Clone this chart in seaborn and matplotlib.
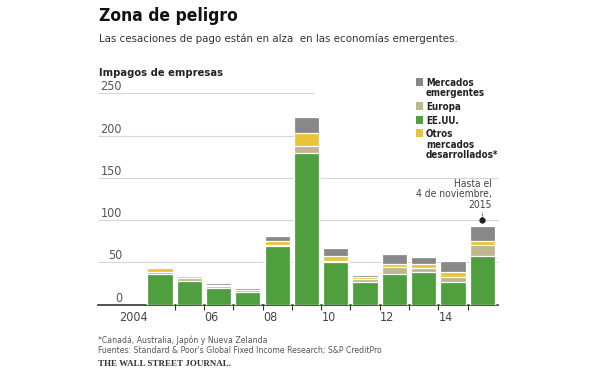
import matplotlib
matplotlib.use("Agg")
import matplotlib.pyplot as plt
import matplotlib.transforms as mtransforms
from matplotlib.patches import Rectangle
import pandas as pd
import seaborn as sns

# Impagos de empresas por región (número)
years = [2004, 2005, 2006, 2007, 2008, 2009, 2010, 2011, 2012, 2013, 2014, 2015]
ee_uu = [36, 28, 19, 15, 69, 179, 50, 27, 36, 38, 27, 58]
europa = [3, 3, 3, 2, 2, 9, 2, 3, 8, 5, 6, 12]
otros = [4, 3, 1, 0.5, 4, 15, 5, 2, 4, 5, 6, 5]
emergentes = [0, 0, 2, 1.5, 6, 19, 10, 3, 12, 8, 13, 18]

year_labels = ["2004", "06", "08", "10", "12", "14"]
y_ticks = [0, 50, 100, 150, 200, 250]
note_value = 100  # dot for "Hasta el 4 de noviembre, 2015"

GREEN = "#4f9f3f"
TAN = "#bdb88c"
YELLOW = "#e9c43a"
GRAY = "#88888b"

sns.set_theme(style="white")
plt.rcParams["font.family"] = ["DejaVu Sans"]
plt.rcParams["font.stretch"] = "condensed"

df = pd.DataFrame({
    "year": [str(y) for y in years],
    "ee_uu": ee_uu,
    "europa": europa,
    "otros": otros,
    "emergentes": emergentes,
})
# stacked tops, bottom to top: EE.UU., Europa, Otros, Emergentes
df["top_us"] = df["ee_uu"]
df["top_eu"] = df["top_us"] + df["europa"]
df["top_ot"] = df["top_eu"] + df["otros"]
df["top_em"] = df["top_ot"] + df["emergentes"]


def fx(px):
    return px / 600


def fy(py):
    return 1 - py / 370


fig = plt.figure(figsize=(6, 3.7), dpi=100)
ax = fig.add_axes([fx(98), fy(304.5), 400 / 600, (304.5 - 93.3) / 370])

# draw the tallest stack first, each lower layer covers the one above it
for col, color in [("top_em", GRAY), ("top_ot", YELLOW), ("top_eu", TAN), ("top_us", GREEN)]:
    sns.barplot(data=df, x="year", y=col, color=color, saturation=1, width=0.86,
                errorbar=None, edgecolor="white", linewidth=0.9, ax=ax, zorder=3)

ax.set_xlim(-2.116, 11.536)
ax.set_ylim(0, 250)
ax.set_xlabel("")
ax.set_ylabel("")
ax.set_yticks([])
sns.despine(ax=ax, left=True)
ax.spines["bottom"].set_color("#333333")
ax.spines["bottom"].set_linewidth(1.2)

# gridlines; the top two stop short where the legend sits
big_idx = years.index(2009)
for v in y_ticks[1:]:
    xmax = big_idx + 0.24 if v >= 200 else ax.get_xlim()[1]
    ax.hlines(v, ax.get_xlim()[0], xmax, color="#d6d6d6", lw=0.8, zorder=1, clip_on=False)

lab_tr = mtransforms.blended_transform_factory(ax.transAxes, ax.transData)
for v in y_ticks:
    ax.text(0.06, v + 3.5, str(v), transform=lab_tr, ha="right", va="baseline",
            fontsize=9, color="#555555")

# tick marks between bars, year labels on minor ticks
ax.set_xticks([i + 0.5 for i in range(len(years) - 1)], labels=[])
ax.tick_params(axis="x", which="major", bottom=True, length=3.6, width=0.8,
               color="#333333", direction="out")
label_pos = [years.index(2000 + int(s[-2:])) for s in year_labels]
label_pos[0] = label_pos[0] - 0.42
ax.set_xticks(label_pos, labels=year_labels, minor=True)
ax.tick_params(axis="x", which="minor", bottom=True, length=0, pad=4.5,
               labelsize=9, labelcolor="#444444")
for lbl in ax.get_xticklabels(minor=True):
    lbl.set_ha("right")

# note on the 2015 bar
i15 = years.index(2015)
ax.text(i15 + 0.31, 112, "Hasta el\n4 de noviembre,\n2015", ha="right", va="bottom",
        fontsize=7.4, color="#444444", linespacing=1.05, zorder=4)
ax.plot([i15, i15], [note_value, 110], color="#222222", lw=0.9, ls=(0, (1, 1)), zorder=4)
ax.plot([i15], [note_value], "o", color="#222222", ms=3.5, zorder=5)

# titles
fig.text(fx(99), fy(21), "Zona de peligro", fontsize=12.5, fontweight="bold", color="#111111",
         va="baseline")
fig.text(fx(99), fy(42), "Las cesaciones de pago están en alza  en las economías emergentes.",
         fontsize=8.2, color="#333333", va="baseline")
fig.text(fx(99), fy(76.5), "Impagos de empresas", fontsize=8, fontweight="bold",
         color="#222222", va="baseline")

# legend
legend_items = [
    (GRAY, ["Mercados", "emergentes"]),
    (TAN, ["Europa"]),
    (GREEN, ["EE.UU."]),
    (YELLOW, ["Otros", "mercados", "desarrollados*"]),
]
base = 86
for color, lines in legend_items:
    fig.add_artist(Rectangle((fx(416), fy(base)), 7 / 600, 8 / 370, transform=fig.transFigure,
                             facecolor=color, edgecolor="none"))
    for line in lines:
        fig.text(fx(426), fy(base), line, fontsize=7, fontweight="bold", color="#222222",
                 va="baseline")
        base += 10.5
    base += 3

# footer
fig.text(fx(98), fy(343), "*Canadá, Australia, Japón y Nueva Zelanda", fontsize=6.2,
         color="#555555", va="baseline")
fig.text(fx(98), fy(353), "Fuentes: Standard & Poor's Global Fixed Income Research; S&P CreditPro",
         fontsize=6.2, color="#555555", va="baseline")
fig.text(fx(98), fy(366.5), "THE WALL STREET JOURNAL.", fontsize=6.5, fontweight="bold",
         family="Liberation Serif", color="#333333", va="baseline")

fig.savefig("out.png", dpi=100)
